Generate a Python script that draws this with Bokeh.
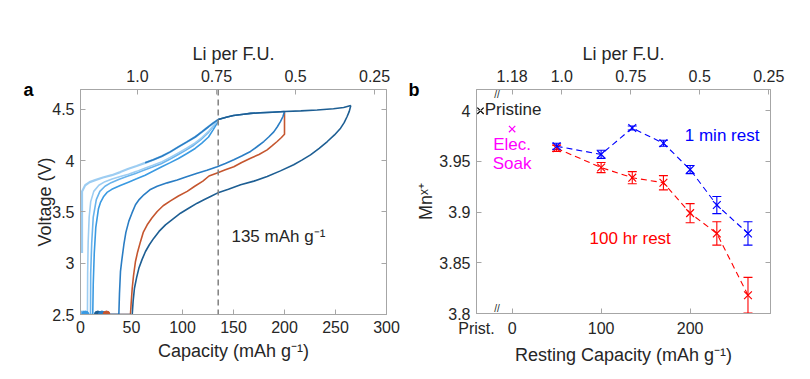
from bokeh.plotting import figure
from bokeh.models import (LinearAxis, FixedTicker, Range1d, Span, Label,
                          Whisker, ColumnDataSource, TeeHead)
from bokeh.layouts import row
from bokeh.embed import file_html
from bokeh.resources import INLINE

FONT = "Liberation Sans"
TEXT = "#262626"
BOX = "#A6A6A6"

# ---------------- panel a: voltage profiles ----------------
# shared charge branch (capacity mAh/g, voltage V)
CHG_CAP = [1.5, 1.5, 4.6, 9, 14.4, 22, 30.7, 39, 47, 55, 63.4, 71.5, 79.7, 88, 96,
           104, 112.4, 119, 125.5, 130, 135, 143.8, 150, 160, 166.7, 176.5, 188,
           200, 216, 232, 248, 258, 265]
CHG_V = [3.10, 3.70, 3.76, 3.79, 3.81, 3.835, 3.858, 3.888, 3.92, 3.948, 3.978,
         4.008, 4.043, 4.085, 4.134, 4.18, 4.23, 4.28, 4.33, 4.365, 4.40, 4.425,
         4.44, 4.452, 4.46, 4.466, 4.472, 4.478, 4.485, 4.493, 4.505, 4.518, 4.537]

# discharge branches after charging to 135 mAh/g
D1_CAP = [135, 131, 126, 119, 112, 104, 96, 88, 80, 71, 63, 55, 47, 39, 31, 24,
          18, 13, 10, 8.5, 7.5, 7.0, 6.8, 1.0]
D1_V = [4.40, 4.35, 4.29, 4.225, 4.17, 4.12, 4.075, 4.03, 3.99, 3.955, 3.925,
        3.895, 3.868, 3.845, 3.82, 3.795, 3.76, 3.70, 3.60, 3.45, 3.2, 2.9, 2.5, 2.5]
D2_CAP = [135, 130, 125, 118, 111, 103, 95, 87, 79, 70, 62, 54, 46, 38, 30, 24,
          19, 15.5, 12.5, 11, 10, 9.8, 2.8]
D2_V = [4.40, 4.33, 4.27, 4.205, 4.15, 4.10, 4.055, 4.01, 3.97, 3.935, 3.905,
        3.875, 3.847, 3.818, 3.785, 3.75, 3.70, 3.62, 3.45, 3.2, 2.9, 2.5, 2.5]
D3_CAP = [135, 133.7, 130, 125.5, 119, 112.4, 104, 96, 88, 79.7, 71.5, 63.4, 55,
          47, 39, 30.7, 26, 22.5, 19.5, 17.6, 15, 13.5, 12.5, 12, 4.8]
D3_V = [4.40, 4.36, 4.30, 4.23, 4.17, 4.118, 4.067, 4.02, 3.98, 3.94, 3.898,
        3.858, 3.823, 3.79, 3.757, 3.72, 3.69, 3.647, 3.59, 3.53, 3.35, 3.1, 2.8,
        2.5, 2.5]

# discharge after charging to 200 mAh/g
MID_CAP = [200, 198.5, 196, 193, 189.5, 184.5, 179.7, 173, 166.7, 158, 150.3, 142,
           134, 124, 114.4, 104, 94.8, 85, 75.2, 68, 62.1, 57.5, 53.9, 50.5, 47.4,
           44.5, 42.5, 40.5, 39.2, 38.2, 37.6, 21]
MID_V = [4.478, 4.43, 4.38, 4.33, 4.28, 4.23, 4.186, 4.135, 4.089, 4.045, 4.008,
         3.972, 3.94, 3.905, 3.877, 3.842, 3.81, 3.783, 3.75, 3.715, 3.667, 3.62,
         3.57, 3.49, 3.41, 3.30, 3.18, 3.03, 2.92, 2.7, 2.5, 2.5]

# rest at 200 mAh/g, then discharge
RED_CAP = [200, 200, 197, 192.8, 188, 183, 175, 166.7, 158, 150.3, 142, 134, 126,
           120, 112, 104.6, 96, 88.2, 81, 75.2, 70, 65.4, 61.5, 58.8, 56, 53.9, 52,
           50.7, 49.6, 49, 25.5]
RED_V = [4.478, 4.257, 4.225, 4.186, 4.145, 4.105, 4.06, 4.023, 3.982, 3.94, 3.91,
         3.88, 3.85, 3.80, 3.75, 3.70, 3.655, 3.608, 3.56, 3.504, 3.44, 3.374, 3.30,
         3.21, 3.11, 3.017, 2.88, 2.756, 2.6, 2.5, 2.5]

# discharge after charging to 265 mAh/g
DARK_CAP = [265, 263.5, 261.4, 258.5, 255, 249, 242, 234, 225.5, 217, 209, 196,
            183, 170, 157, 145, 135.6, 127.5, 121, 114.4, 106, 98, 90.5, 83.3, 77,
            71.9, 67.5, 63.7, 60.3, 57.2, 55, 52.9, 51.6, 50.7, 17]
DARK_V = [4.537, 4.48, 4.43, 4.37, 4.316, 4.25, 4.186, 4.12, 4.056, 4.005, 3.96,
          3.90, 3.845, 3.80, 3.764, 3.72, 3.69, 3.65, 3.618, 3.585, 3.535, 3.487,
          3.43, 3.374, 3.31, 3.244, 3.18, 3.114, 3.035, 2.95, 2.86, 2.756, 2.63,
          2.5, 2.5]

# end of the 2.5 V holds
HOLD_CAP = [1.0, 2.8, 4.8, 17, 21, 25.5]
HOLD_V = [2.5, 2.5, 2.5, 2.5, 2.5, 2.5]

CAP_TICKS = [0, 50, 100, 150, 200, 250, 300]
V_TICKS = [2.5, 3.0, 3.5, 4.0, 4.5]
V_LABELS = ["2.5", "3", "3.5", "4", "4.5"]

# Li content of the formula unit vs. capacity
LI_AT_ZERO = 1.18
CAP_PER_LI = 310.0
LI_TICKS_A = [1.0, 0.75, 0.5, 0.25]
LI_LABELS_A = ["1.0", "0.75", "0.5", "0.25"]
LI_TICKS_B = [1.18, 1.0, 0.75, 0.5, 0.25]
LI_LABELS_B = ["1.18", "1.0", "0.75", "0.5", "0.25"]
CUTOFF_CAP = 135

# ---------------- panel b: Mn valence ----------------
REST_CAP = [50, 100, 135, 170, 200, 230, 265]
MN_1MIN = [3.965, 3.957, 3.983, 3.968, 3.942, 3.907, 3.879]
ERR_1MIN = [0.003, 0.004, 0.002, 0.003, 0.004, 0.0085, 0.0115]
MN_100HR = [3.963, 3.944, 3.934, 3.929, 3.899, 3.879, 3.818]
ERR_100HR = [0.003, 0.005, 0.006, 0.007, 0.0094, 0.0115, 0.0176]
SOAK_CAP = [0]
SOAK_MN = [3.982]
PRISTINE_CAP = [-35.5]
PRISTINE_MN = [4.0]

B_X_TICKS = [-40, 0, 100, 200]
B_X_LABELS = ["Prist.", "0", "100", "200"]
B_Y_TICKS = [3.8, 3.85, 3.9, 3.95, 4.0]
B_Y_LABELS = ["3.8", "3.85", "3.9", "3.95", "4"]

LIGHT1 = "#9DCDF2"
LIGHT2 = "#69B3EC"
LIGHT3 = "#3A9AE2"
MID = "#2A7DC4"
RED = "#C5562F"
DARK = "#1D5E93"

TICK_PX = "16px"
TITLE_PX = "18px"
NOTE_PX = "17px"


def li_to_cap(li):
    return round((LI_AT_ZERO - li) * CAP_PER_LI, 6)


def style_axis(ax, ticks, labels, title=None, show_labels=True):
    ax.ticker = FixedTicker(ticks=ticks)
    if show_labels:
        ax.major_label_overrides = {t: s for t, s in zip(ticks, labels)}
    else:
        ax.major_label_overrides = {t: "" for t in ticks}
    ax.major_tick_in = 5
    ax.major_tick_out = 0
    ax.minor_tick_line_color = None
    ax.axis_line_color = BOX
    ax.major_tick_line_color = BOX
    ax.major_label_text_font = FONT
    ax.major_label_text_font_size = TICK_PX
    ax.major_label_text_color = TEXT
    if title:
        ax.axis_label = title
    ax.axis_label_text_font = FONT
    ax.axis_label_text_font_size = TITLE_PX
    ax.axis_label_text_font_style = "normal"
    ax.axis_label_text_color = TEXT


def panel_letter(p, letter, standoff):
    # an empty outer axis whose horizontal title sits level with the frame top
    ax = LinearAxis(ticker=FixedTicker(ticks=[]), axis_line_color=None,
                    major_tick_line_color=None, minor_tick_line_color=None,
                    axis_label=letter, axis_label_text_font=FONT,
                    axis_label_text_font_size="18px",
                    axis_label_text_font_style="bold",
                    axis_label_text_color="black",
                    axis_label_orientation="horizontal",
                    axis_label_align="end",
                    axis_label_standoff=standoff)
    p.add_layout(ax, "left")


def base_fig(xr, yr, fw, fh, left, right, top, bottom):
    p = figure(output_backend="svg", toolbar_location=None,
               frame_width=fw, frame_height=fh,
               x_range=Range1d(*xr), y_range=Range1d(*yr),
               min_border_left=left, min_border_right=right,
               min_border_top=top, min_border_bottom=bottom)
    p.grid.visible = False
    p.outline_line_color = BOX
    p.background_fill_color = "white"
    p.border_fill_color = "white"
    return p


# ---------- panel a ----------
pa = base_fig((0, 300), (2.5, 4.693), 306, 225, 80, 19, 88, 66)
style_axis(pa.xaxis[0], CAP_TICKS, [str(t) for t in CAP_TICKS], "Capacity (mAh g\u207b\u00b9)")
pa.xaxis[0].major_label_standoff = 6
pa.xaxis[0].axis_label_standoff = 5
style_axis(pa.yaxis[0], V_TICKS, V_LABELS, "Voltage (V)")
pa.yaxis[0].major_label_standoff = 6
pa.yaxis[0].axis_label_standoff = -6
panel_letter(pa, "a", -1)

top_a = LinearAxis()
style_axis(top_a, [li_to_cap(v) for v in LI_TICKS_A], LI_LABELS_A, "Li per F.U.")
top_a.major_label_standoff = 8
top_a.axis_label_standoff = 3
pa.add_layout(top_a, "above")
right_a = LinearAxis()
style_axis(right_a, V_TICKS, V_LABELS, show_labels=False)
pa.add_layout(right_a, "right")

pa.add_layout(Span(location=CUTOFF_CAP, dimension="height", line_color="#808080",
                   line_dash="6 4", line_width=1.5))

LW = 1.6
lo = [i for i, c in enumerate(CHG_CAP) if c <= 135]
pa.line(D3_CAP, D3_V, line_color=LIGHT3, line_width=LW)
pa.line(D2_CAP, D2_V, line_color=LIGHT2, line_width=LW)
pa.line(D1_CAP, D1_V, line_color=LIGHT1, line_width=LW)
pa.line([CHG_CAP[i] for i in lo], [CHG_V[i] for i in lo], line_color=LIGHT1,
        line_width=2.2)
pa.line(RED_CAP, RED_V, line_color=RED, line_width=LW)
mid_idx = [i for i, c in enumerate(CHG_CAP) if 63 <= c <= 200]
pa.line([CHG_CAP[i] for i in mid_idx], [CHG_V[i] for i in mid_idx],
        line_color=MID, line_width=LW)
pa.line(MID_CAP, MID_V, line_color=MID, line_width=LW)
dark_idx = [i for i, c in enumerate(CHG_CAP) if c >= 135]
pa.line([CHG_CAP[i] for i in dark_idx], [CHG_V[i] for i in dark_idx],
        line_color=DARK, line_width=LW)
pa.line(DARK_CAP, DARK_V, line_color=DARK, line_width=LW)
pa.scatter(HOLD_CAP, HOLD_V, marker="circle", size=7,
           fill_color=[LIGHT1, LIGHT2, LIGHT3, DARK, MID, RED],
           line_color=[LIGHT1, LIGHT2, LIGHT3, DARK, MID, RED])

pa.add_layout(Label(x=148, y=3.26, text="135 mAh g\u207b\u00b9", text_font=FONT,
                    text_font_size=NOTE_PX, text_color=TEXT, text_baseline="middle",
                    text_align="left"))

# ---------- panel b ----------
pb = base_fig((-40, 290.3), (3.8, 4.021), 294, 224, 60, 38, 89, 66)
style_axis(pb.xaxis[0], B_X_TICKS, B_X_LABELS, "Resting Capacity (mAh g\u207b\u00b9)")
pb.xaxis[0].major_label_standoff = 6
pb.xaxis[0].axis_label_standoff = 5
style_axis(pb.yaxis[0], B_Y_TICKS, B_Y_LABELS, "Mn\u02e3\u207a")
pb.yaxis[0].major_label_standoff = 6
pb.yaxis[0].axis_label_standoff = 0
panel_letter(pb, "b", -6)

top_b = LinearAxis()
style_axis(top_b, [li_to_cap(v) for v in LI_TICKS_B], LI_LABELS_B, "Li per F.U.")
top_b.major_label_standoff = 8
top_b.axis_label_standoff = 3
pb.add_layout(top_b, "above")
right_b = LinearAxis()
style_axis(right_b, B_Y_TICKS, B_Y_LABELS, show_labels=False)
pb.add_layout(right_b, "right")


def series(p, xs, ys, errs, color):
    src = ColumnDataSource(dict(x=xs, y=ys,
                                upper=[y + e for y, e in zip(ys, errs)],
                                lower=[y - e for y, e in zip(ys, errs)]))
    p.line("x", "y", source=src, line_color=color, line_dash="6 4", line_width=1.1)
    p.add_layout(Whisker(source=src, base="x", upper="upper", lower="lower",
                         line_color=color, line_width=1.1,
                         upper_head=TeeHead(size=9, line_color=color, line_width=1.1),
                         lower_head=TeeHead(size=9, line_color=color, line_width=1.1)))
    p.scatter("x", "y", source=src, marker="x", size=11, line_color=color,
              line_width=1.2)


series(pb, REST_CAP, MN_100HR, ERR_100HR, "#FF0000")
series(pb, REST_CAP, MN_1MIN, ERR_1MIN, "#0000FF")
pb.scatter(SOAK_CAP, SOAK_MN, marker="x", size=9, line_color="#FF00FF",
           line_width=1.2)
pb.scatter(PRISTINE_CAP, PRISTINE_MN, marker="x", size=9, line_color="black",
           line_width=1.2)

pb.add_layout(Label(x=-30.7, y=4.001, text="Pristine", text_font=FONT,
                    text_font_size=NOTE_PX, text_color=TEXT,
                    text_baseline="middle", text_align="left"))
pb.add_layout(Label(x=0, y=3.967, text="Elec.", text_font=FONT,
                    text_font_size=NOTE_PX, text_color="#FF00FF",
                    text_baseline="middle", text_align="center"))
pb.add_layout(Label(x=0, y=3.948, text="Soak", text_font=FONT,
                    text_font_size=NOTE_PX, text_color="#FF00FF",
                    text_baseline="middle", text_align="center"))
pb.add_layout(Label(x=194, y=3.976, text="1 min rest", text_font=FONT,
                    text_font_size=NOTE_PX, text_color="#0000FF",
                    text_baseline="middle", text_align="left"))
pb.add_layout(Label(x=87, y=3.874, text="100 hr rest", text_font=FONT,
                    text_font_size=NOTE_PX, text_color="#FF0000",
                    text_baseline="middle", text_align="left"))
for yb in (4.0165, 3.8045):
    pb.add_layout(Label(x=-17, y=yb, text="//", text_font=FONT,
                        text_font_size="10px", text_color=TEXT,
                        text_baseline="middle", text_align="center"))

layout = row(pa, pb)
open("out.html", "w").write(file_html(layout, INLINE))
